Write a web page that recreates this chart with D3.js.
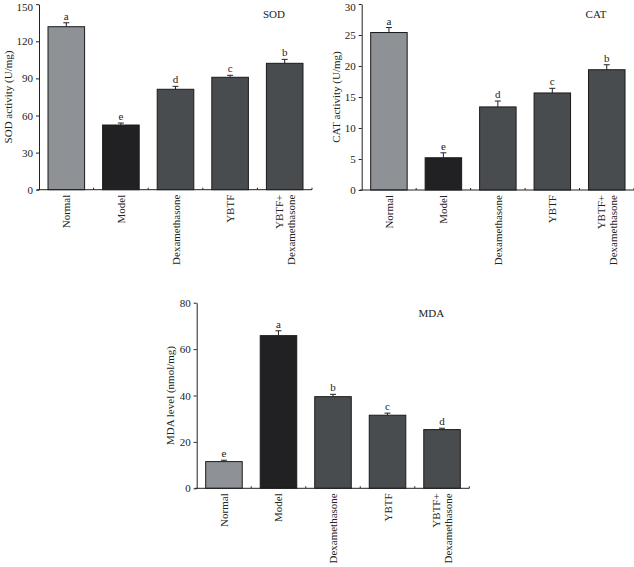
<!DOCTYPE html>
<html>
<head>
<meta charset="utf-8">
<script src="https://cdn.jsdelivr.net/npm/d3@7"></script>
<style>
  body { margin: 0; background: #fff; }
  svg { display: block; }
  text { font-family: "Liberation Serif", "DejaVu Serif", serif; fill: #222; }
  .axis path, .axis line { stroke: #222; stroke-width: 1; }
  .axis text { font-size: 11px; fill: #222; }
</style>
</head>
<body>
<svg id="chart" width="634" height="567"></svg>
<script>
// groups, shared by all three panels
const groups = ['Normal', 'Model', 'Dexamethasone', 'YBTF', 'YBTF+ Dexamethasone'];
const barColors = ['#8e9196', '#212123', '#494c4f', '#494c4f', '#494c4f'];

// SOD activity (U/mg)
const sodValues = [131.8, 52.3, 81.2, 90.9, 102.2];
const sodErrors = [3.2, 1.6, 2.4, 1.6, 3.2];
const sodLetters = ['a', 'e', 'd', 'c', 'b'];
const sodTicks = [0, 30, 60, 90, 120, 150];

// CAT activity (U/mg)
const catValues = [25.4, 5.2, 13.4, 15.65, 19.4];
const catErrors = [0.8, 0.8, 0.95, 0.75, 0.8];
const catLetters = ['a', 'e', 'd', 'c', 'b'];
const catTicks = [0, 5, 10, 15, 20, 25, 30];

// MDA level (nmol/mg)
const mdaValues = [11.5, 65.8, 39.5, 31.5, 25.3];
const mdaErrors = [0.6, 2.1, 1.0, 0.9, 0.6];
const mdaLetters = ['e', 'a', 'b', 'c', 'd'];
const mdaTicks = [0, 20, 40, 60, 80];

const svg = d3.select('#chart');

function drawPanel(cfg) {
  const g = svg.append('g');

  const x = d3.scaleBand()
    .domain(groups)
    .range([cfg.left, cfg.right])
    .paddingInner(0.33)
    .paddingOuter(0.165);

  const y = d3.scaleLinear()
    .domain([0, cfg.max])
    .range([cfg.bottom, cfg.top]);

  // bars
  g.selectAll('.bar')
    .data(cfg.values)
    .join('rect')
    .attr('class', 'bar')
    .attr('x', (d, i) => x(groups[i]))
    .attr('y', d => y(d))
    .attr('width', x.bandwidth())
    .attr('height', d => cfg.bottom - y(d))
    .attr('fill', (d, i) => barColors[i])
    .attr('stroke', '#1a1a1a')
    .attr('stroke-width', 1);

  // error bars (upper half only)
  const cx = i => x(groups[i]) + x.bandwidth() / 2;
  g.selectAll('.err')
    .data(cfg.values)
    .join('line')
    .attr('x1', (d, i) => cx(i))
    .attr('x2', (d, i) => cx(i))
    .attr('y1', d => y(d))
    .attr('y2', (d, i) => y(d + cfg.errors[i]))
    .attr('stroke', '#222');
  g.selectAll('.cap')
    .data(cfg.values)
    .join('line')
    .attr('x1', (d, i) => cx(i) - 3)
    .attr('x2', (d, i) => cx(i) + 3)
    .attr('y1', (d, i) => y(d + cfg.errors[i]))
    .attr('y2', (d, i) => y(d + cfg.errors[i]))
    .attr('stroke', '#222');

  // significance letters
  g.selectAll('.letter')
    .data(cfg.values)
    .join('text')
    .attr('x', (d, i) => cx(i))
    .attr('y', (d, i) => y(d + cfg.errors[i]) - 3)
    .attr('text-anchor', 'middle')
    .style('font-size', '11px')
    .text((d, i) => cfg.letters[i]);

  // y axis
  const yAxis = d3.axisLeft(y).tickValues(cfg.ticks).tickSize(3).tickPadding(3).tickSizeOuter(0);
  const yg = g.append('g')
    .attr('class', 'axis')
    .attr('transform', `translate(${cfg.left},0)`)
    .call(yAxis);
  // keep the top tick label inside the page
  yg.selectAll('.tick text')
    .filter(d => d === cfg.max)
    .attr('dy', d => (y(d) < 6 ? '0.55em' : '0.32em'));

  // x axis: small inward ticks at band boundaries
  g.append('line')
    .attr('x1', cfg.left - 2)
    .attr('x2', cfg.right)
    .attr('y1', cfg.bottom)
    .attr('y2', cfg.bottom)
    .attr('stroke', '#222');
  const bounds = groups.map((d, i) => i === 0 ? null : x(d) - x.step() * x.paddingInner() / 2).filter(d => d !== null);
  bounds.push(cfg.right);
  g.selectAll('.xtick')
    .data(bounds)
    .join('line')
    .attr('x1', d => d)
    .attr('x2', d => d)
    .attr('y1', cfg.bottom)
    .attr('y2', cfg.bottom - 2)
    .attr('stroke', '#222');

  // category labels, rotated
  groups.forEach((name, i) => {
    const lines = name.split(' ');
    lines.forEach((ln, j) => {
      const off = (j - (lines.length - 1) / 2) * 12;
      g.append('text')
        .attr('transform', `translate(${cx(i) + off + 4},${cfg.bottom + 5}) rotate(-90)`)
        .attr('text-anchor', 'end')
        .style('font-size', '11px')
        .text(ln);
    });
  });

  // y axis title
  g.append('text')
    .attr('transform', `translate(${cfg.left - cfg.labelOff},${(cfg.top + cfg.bottom) / 2}) rotate(-90)`)
    .attr('text-anchor', 'middle')
    .attr('dy', '0.35em')
    .style('font-size', '11px')
    .text(cfg.yLabel);

  // panel name
  g.append('text')
    .attr('x', cfg.right - 38)
    .attr('y', cfg.top + 14)
    .attr('text-anchor', 'middle')
    .style('font-size', '11px')
    .text(cfg.name);
}

drawPanel({
  left: 39, right: 312, top: 4.2, bottom: 189.7, max: 150,
  values: sodValues, errors: sodErrors, letters: sodLetters, ticks: sodTicks,
  yLabel: 'SOD activity (U/mg)', name: 'SOD', labelOff: 31
});

drawPanel({
  left: 361.7, right: 634, top: 4, bottom: 190, max: 30,
  values: catValues, errors: catErrors, letters: catLetters, ticks: catTicks,
  yLabel: 'CAT activity (U/mg)', name: 'CAT', labelOff: 26
});

drawPanel({
  left: 196.7, right: 469.3, top: 302.7, bottom: 488.3, max: 80,
  values: mdaValues, errors: mdaErrors, letters: mdaLetters, ticks: mdaTicks,
  yLabel: 'MDA level (nmol/mg)', name: 'MDA', labelOff: 27
});
</script>
</body>
</html>
